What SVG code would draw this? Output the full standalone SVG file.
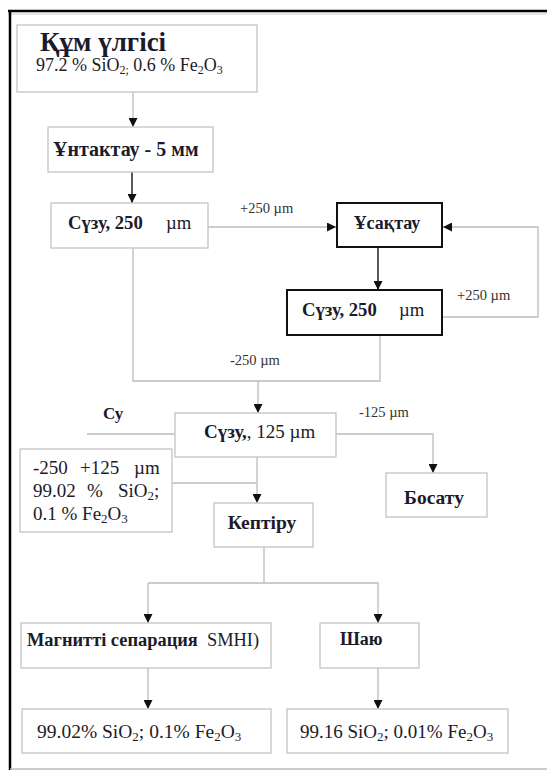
<svg xmlns="http://www.w3.org/2000/svg" width="547" height="774" viewBox="0 0 547 774" font-family="'Liberation Serif', 'Times New Roman', 'DejaVu Serif', serif">
<style>
.box{fill:#fff;stroke:#c4c4c4;stroke-width:1.3}
.bbox{fill:#fff;stroke:#111;stroke-width:2}
.ln{fill:none;stroke:#bcbcbc;stroke-width:1.3}
.dk{fill:none;stroke:#222;stroke-width:1.5}
text{font-family:'Liberation Serif','Times New Roman','DejaVu Serif',serif;fill:#1b1b2b}
.b{font-weight:bold}
.lab{fill:#333;font-size:14.5px}
</style>
<defs>
<marker id="ah" viewBox="0 0 10 10" refX="10" refY="5" markerWidth="10" markerHeight="9" markerUnits="userSpaceOnUse" orient="auto">
<path d="M0,0 L10,5 L0,10 z" fill="#111"/>
</marker>
</defs>
<rect x="0" y="0" width="547" height="774" fill="#fff"/>
<g id="frame">
<line x1="8" y1="11" x2="547" y2="11" stroke="#000" stroke-width="2.5"/>
<line x1="8" y1="14" x2="547" y2="14" stroke="#ddd" stroke-width="1.5"/>
<line x1="10" y1="10" x2="10" y2="770" stroke="#000" stroke-width="2.5"/>
<line x1="10" y1="769" x2="547" y2="769" stroke="#bbb" stroke-width="1.5"/>
</g>
<g id="connectors">
<line class="ln" x1="133" y1="92" x2="133" y2="127" marker-end="url(#ah)"/>
<line class="dk" x1="132" y1="172" x2="132" y2="203" marker-end="url(#ah)"/>
<line class="ln" x1="208" y1="227" x2="336" y2="227" marker-end="url(#ah)"/>
<polyline class="ln" points="442,317 538,317 538,227 443,227" marker-end="url(#ah)"/>
<line class="dk" x1="378" y1="248" x2="378" y2="290" marker-end="url(#ah)"/>
<polyline class="ln" points="380,335 380,381 133,381 133,248"/>
<line class="ln" x1="258" y1="381" x2="258" y2="413" marker-end="url(#ah)"/>
<line class="ln" x1="87" y1="434" x2="175" y2="434"/>
<polyline class="ln" points="336,434 433,434 433,473" marker-end="url(#ah)"/>
<line class="ln" x1="257" y1="457" x2="257" y2="503" marker-end="url(#ah)"/>
<line class="ln" x1="172" y1="483" x2="257" y2="483"/>
<line class="ln" x1="264" y1="547" x2="264" y2="583"/>
<polyline class="ln" points="148,583 378,583 378,623" marker-end="url(#ah)"/>
<polyline class="ln" points="148,583 148,623" marker-end="url(#ah)"/>
<line class="ln" x1="148" y1="668" x2="148" y2="709" marker-end="url(#ah)"/>
<line class="ln" x1="378" y1="668" x2="378" y2="709" marker-end="url(#ah)"/>
<text class="lab" x="240" y="213">+250 µm</text>
<text class="lab" x="457" y="300">+250 µm</text>
<text class="lab" x="230" y="365">-250 µm</text>
<text class="lab" x="359" y="417">-125 µm</text>
</g>
<g id="sample">
<rect class="box" x="17" y="25" width="240" height="67"/>
<text class="b" x="40" y="51" font-size="27">Құм үлгісі</text>
<text x="36" y="71" font-size="18">97.2 % SiO<tspan font-size="12" dy="3">2;</tspan><tspan dy="-3"> 0.6 % Fe</tspan><tspan font-size="12" dy="3">2</tspan><tspan dy="-3">O</tspan><tspan font-size="12" dy="3">3</tspan></text>
</g>
<g id="grind">
<rect class="box" x="48" y="127" width="165" height="45"/>
<text class="b" x="53" y="156" font-size="20">Ұнтактау - 5 мм</text>
</g>
<g id="sieve1">
<rect class="box" x="51" y="203" width="157" height="45"/>
<text class="b" x="68" y="229" font-size="18.7">Сүзу, 250</text>
<text x="166" y="229" font-size="18.7">µm</text>
</g>
<g id="crush">
<rect class="bbox" x="337" y="203" width="105" height="44"/>
<text class="b" x="387" y="229" font-size="18" text-anchor="middle">Ұсақтау</text>
</g>
<g id="sieve2">
<rect class="bbox" x="287" y="290" width="155" height="45"/>
<text class="b" x="302" y="316" font-size="18.7">Сүзу, 250</text>
<text x="399" y="316" font-size="18.7">µm</text>
</g>
<g id="water">
<text class="b" x="103" y="419" font-size="17">Су</text>
</g>
<g id="sieve3">
<rect class="box" x="175" y="413" width="161" height="44"/>
<text x="204" y="438" font-size="19"><tspan class="b">Сүзу,</tspan>, 125 µm</text>
</g>
<g id="discard">
<rect class="box" x="386" y="473" width="101" height="44"/>
<text class="b" x="434" y="504" font-size="19.5" text-anchor="middle">Босату</text>
</g>
<g id="fraction">
<rect class="box" x="20" y="449" width="152" height="83"/>
<text x="33" y="474" font-size="19">-250<tspan x="80">+125</tspan><tspan x="134">µm</tspan></text>
<text x="33" y="497" font-size="19">99.02<tspan x="87">%</tspan><tspan x="118">SiO</tspan><tspan font-size="13" dy="3">2</tspan><tspan dy="-3">;</tspan></text>
<text x="33" y="520" font-size="19">0.1 % Fe<tspan font-size="13" dy="3">2</tspan><tspan dy="-3">O</tspan><tspan font-size="13" dy="3">3</tspan></text>
</g>
<g id="dry">
<rect class="box" x="214" y="503" width="99" height="44"/>
<text class="b" x="262" y="529" font-size="19.5" text-anchor="middle">Кептіру</text>
</g>
<g id="magsep">
<rect class="box" x="21" y="623" width="250" height="45"/>
<text x="27" y="646" font-size="18.4" xml:space="preserve"><tspan class="b">Магнитті сепарация</tspan>  SMHI)</text>
</g>
<g id="wash">
<rect class="box" x="320" y="623" width="99" height="45"/>
<text class="b" x="340" y="645" font-size="18">Шаю</text>
</g>
<g id="result1">
<rect class="box" x="22" y="709" width="249" height="44"/>
<text x="37" y="738" font-size="19.5">99.02% SiO<tspan font-size="13" dy="3">2</tspan><tspan dy="-3">; 0.1% Fe</tspan><tspan font-size="13" dy="3">2</tspan><tspan dy="-3">O</tspan><tspan font-size="13" dy="3">3</tspan></text>
</g>
<g id="result2">
<rect class="box" x="287" y="709" width="221" height="44"/>
<text x="300" y="738" font-size="19">99.16 SiO<tspan font-size="13" dy="3">2</tspan><tspan dy="-3">; 0.01% Fe</tspan><tspan font-size="13" dy="3">2</tspan><tspan dy="-3">O</tspan><tspan font-size="13" dy="3">3</tspan></text>
</g>
</svg>
